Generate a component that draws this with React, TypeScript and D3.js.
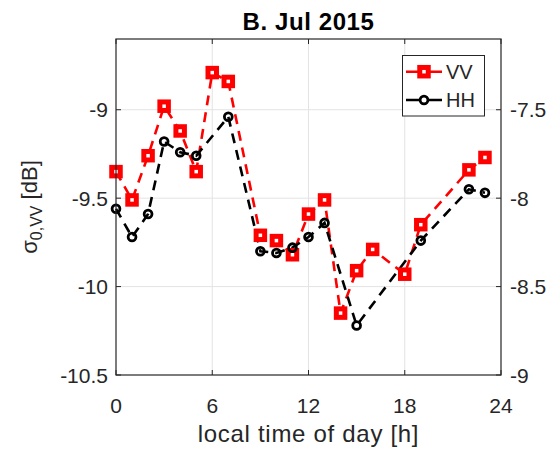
import React from 'react';
import * as d3 from 'd3';

// hourly means, July 2015
const vvHours = [0, 1, 2, 3, 4, 5, 6, 7, 9, 10, 11, 12, 13, 14, 15, 16, 18, 19, 22, 23];
const vvValues = [-9.35, -9.51, -9.26, -8.98, -9.12, -9.35, -8.79, -8.84, -9.71, -9.74, -9.82, -9.59, -9.51, -10.15, -9.91, -9.79, -9.93, -9.65, -9.34, -9.27];
// HH is on the right axis
const hhHours = [0, 1, 2, 3, 4, 5, 7, 9, 10, 11, 12, 13, 15, 19, 22, 23];
const hhValues = [-8.06, -8.22, -8.09, -7.68, -7.74, -7.76, -7.54, -8.30, -8.31, -8.28, -8.22, -8.14, -8.72, -8.24, -7.95, -7.97];

const xTicks = [0, 6, 12, 18, 24];
const leftTicks = [-10.5, -10, -9.5, -9];
const rightTicks = [-9, -8.5, -8, -7.5];

const W = 553;
const H = 452;
const margin = { top: 39, right: 52, bottom: 77, left: 116 };
const font = '"Liberation Sans", Arial, Helvetica, sans-serif';
const axisColor = '#262626';

export default function App() {
  const x = d3.scaleLinear().domain([0, 24]).range([margin.left, W - margin.right]);
  const yL = d3.scaleLinear().domain([-10.5, -8.6]).range([H - margin.bottom, margin.top]);
  const yR = d3.scaleLinear().domain([-9, -7.1]).range([H - margin.bottom, margin.top]);

  const vv = vvHours.map((h, i) => [h, vvValues[i]] as [number, number]);
  const hh = hhHours.map((h, i) => [h, hhValues[i]] as [number, number]);

  const vvLine = d3.line<[number, number]>().x(d => x(d[0])).y(d => yL(d[1]));
  const hhLine = d3.line<[number, number]>().x(d => x(d[0])).y(d => yR(d[1]));

  const x0 = x.range()[0], x1 = x.range()[1];
  const yb = yL.range()[0], yt = yL.range()[1];
  const tick = 5;
  const sq = 8.5;

  return (
    <svg width={W} height={H} style={{ position: 'absolute', left: 0, top: 0, background: '#fff' }} fontFamily={font}>
      {/* grid */}
      <g stroke="#e3e3e3" strokeWidth={1}>
        {xTicks.slice(1, -1).map(t => <line key={'gx' + t} x1={x(t)} x2={x(t)} y1={yt} y2={yb} />)}
        {leftTicks.slice(1).map(t => <line key={'gy' + t} x1={x0} x2={x1} y1={yL(t)} y2={yL(t)} />)}
      </g>

      {/* series */}
      <path d={vvLine(vv) || ''} fill="none" stroke="#ff0000" strokeWidth={2.6} strokeDasharray="10,7" />
      <path d={hhLine(hh) || ''} fill="none" stroke="#000" strokeWidth={2.6} strokeDasharray="10,7" />
      {vv.map(d => (
        <rect key={'v' + d[0]} x={x(d[0]) - sq / 2} y={yL(d[1]) - sq / 2} width={sq} height={sq}
          fill="#fff" stroke="#ff0000" strokeWidth={5} />
      ))}
      {hh.map(d => (
        <circle key={'h' + d[0]} cx={x(d[0])} cy={yR(d[1])} r={3.9} fill="none" stroke="#000" strokeWidth={2.8} />
      ))}

      {/* box + ticks */}
      <rect x={x0} y={yt} width={x1 - x0} height={yb - yt} fill="none" stroke={axisColor} strokeWidth={1.2} />
      <g stroke={axisColor} strokeWidth={1}>
        {xTicks.map(t => (
          <g key={'xt' + t}>
            <line x1={x(t)} x2={x(t)} y1={yb} y2={yb - tick} />
            <line x1={x(t)} x2={x(t)} y1={yt} y2={yt + tick} />
          </g>
        ))}
        {leftTicks.map(t => <line key={'lt' + t} x1={x0} x2={x0 + tick} y1={yL(t)} y2={yL(t)} />)}
        {rightTicks.map(t => <line key={'rt' + t} x1={x1} x2={x1 - tick} y1={yR(t)} y2={yR(t)} />)}
      </g>

      {/* tick labels */}
      <g fill={axisColor} fontSize={21}>
        {xTicks.map(t => (
          <text key={'xl' + t} x={x(t)} y={yb + 38} textAnchor="middle">{t}</text>
        ))}
        {leftTicks.map(t => (
          <text key={'ll' + t} x={x0 - 8} y={yL(t) + 7.5} textAnchor="end">{t}</text>
        ))}
        {rightTicks.map(t => (
          <text key={'rl' + t} x={x1 + 9} y={yR(t) + 7.5} textAnchor="start">{t}</text>
        ))}
      </g>

      {/* axis labels */}
      <text x={(x0 + x1) / 2} y={442} textAnchor="middle" fontSize={24} letterSpacing={0.7} fill={axisColor}>local time of day [h]</text>
      <text transform={`translate(37,${(yt + yb) / 2}) rotate(-90)`} textAnchor="middle" fontSize={22} fill={axisColor}>
        σ<tspan fontSize={16} dy={5}>0,VV</tspan><tspan dy={-5}> [dB]</tspan>
      </text>

      {/* title */}
      <text x={(x0 + x1) / 2} y={30} textAnchor="middle" fontSize={24} letterSpacing={0.6} fontWeight="bold" fill="#000">B. Jul 2015</text>

      {/* legend */}
      <g>
        <rect x={402.5} y={55.5} width={82} height={60.5} fill="#fff" stroke={axisColor} strokeWidth={1} />
        <line x1={406} x2={442} y1={71.7} y2={71.7} stroke="#ff0000" strokeWidth={2.6} />
        <rect x={424 - sq / 2} y={71.7 - sq / 2} width={sq} height={sq} fill="#fff" stroke="#ff0000" strokeWidth={5} />
        <text x={446} y={78.5} fontSize={20} fill={axisColor}>VV</text>
        <line x1={406} x2={442} y1={100} y2={100} stroke="#000" strokeWidth={2.6} />
        <circle cx={424} cy={100} r={3.9} fill="#fff" stroke="#000" strokeWidth={2.8} />
        <text x={446} y={107} fontSize={20} fill={axisColor}>HH</text>
      </g>
    </svg>
  );
}
